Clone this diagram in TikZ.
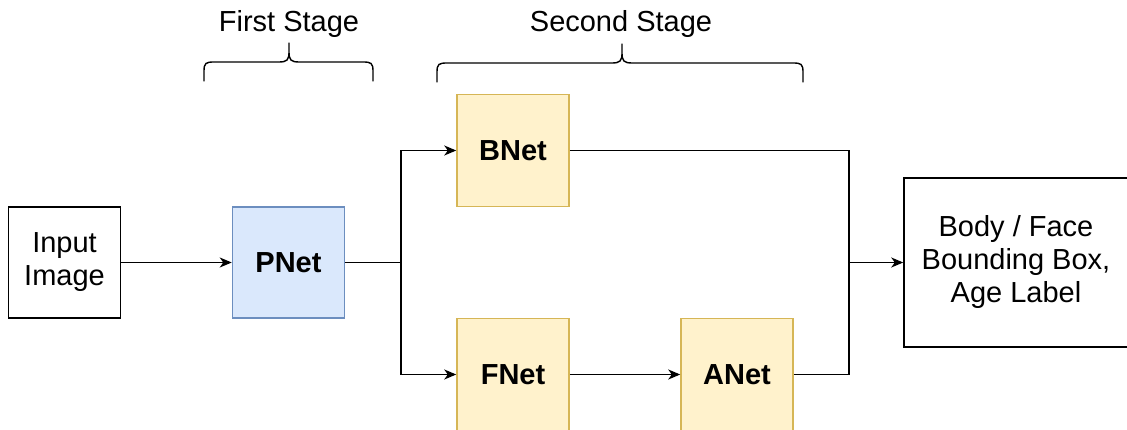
\documentclass[tikz,border=0pt]{standalone}
\usepackage{fontspec}
\setmainfont{Liberation Sans}
\usetikzlibrary{arrows.meta}
\definecolor{blueFill}{HTML}{DAE8FC}
\definecolor{blueLine}{HTML}{6C8EBF}
\definecolor{yellowFill}{HTML}{FFF2CC}
\definecolor{yellowLine}{HTML}{D6B656}
\begin{document}
\begin{tikzpicture}[x=1pt,y=-1pt,
  txt/.style={font=\fontsize{29}{33}\selectfont, align=center, inner sep=0pt},
  plainbox/.style={txt, draw=black, line width=1.5pt, minimum width=112pt, minimum height=111pt},
  pbox/.style={plainbox, draw=blueLine, fill=blueFill, font=\fontsize{29}{33}\selectfont\bfseries},
  ybox/.style={plainbox, draw=yellowLine, fill=yellowFill, font=\fontsize{29}{33}\selectfont\bfseries, minimum height=112pt},
  wire/.style={draw=black, line width=1.5pt},
  arr/.style={wire, -{Stealth[length=12pt, width=10pt, inset=3.5pt]}},
  bracepath/.style={draw=black, line width=1.4pt, line cap=round}
]
\useasboundingbox (0,0) rectangle (1127,430);

% stage labels
\node[txt] (lblA) at (289,24) {First Stage};
\node[txt] (lblB) at (621,24) {Second Stage};

% curly braces under the stage labels
\draw[bracepath] (204,81) -- (204,71) .. controls (204,63) and (206,62) .. (214,62)
  -- (279,62) .. controls (287,62) and (289,60) .. (289,52) -- (289,43)
  (289,52) .. controls (289,60) and (291,62) .. (299,62)
  -- (363,62) .. controls (371,62) and (373,63) .. (373,71) -- (373,81);
\draw[bracepath] (437,82) -- (437,72) .. controls (437,64) and (439,63) .. (447,63)
  -- (612,63) .. controls (620,63) and (622,61) .. (622,53) -- (622,44)
  (622,53) .. controls (622,61) and (624,63) .. (632,63)
  -- (793,63) .. controls (801,63) and (803,64) .. (803,72) -- (803,82);

% processing blocks
\node[plainbox] (inp) at (64.5,262.5) {Input\\Image};
\node[pbox] (pn) at (288.5,262.5) {PNet};
\node[ybox] (bn) at (513,150.5) {BNet};
\node[ybox] (fn) at (513,374.5) {FNet};
\node[ybox] (an) at (737,374.5) {ANet};
\node[plainbox, minimum width=224pt, minimum height=169pt] (out) at (1016,262.5)
  {Body / Face\\Bounding Box,\\Age Label};

% connectors
\coordinate (split) at (401,262.5);
\coordinate (join) at (849,262.5);
\draw[arr] (inp) -- (pn);
\draw[wire] (pn.east) -- (split);
\draw[arr] (split) |- (bn.west);
\draw[arr] (split) |- (fn.west);
\draw[arr] (fn) -- (an);
\draw[wire] (bn.east) -| (join);
\draw[wire] (an.east) -| (join);
\draw[arr] (join) -- (out.west);
\end{tikzpicture}
\end{document}
